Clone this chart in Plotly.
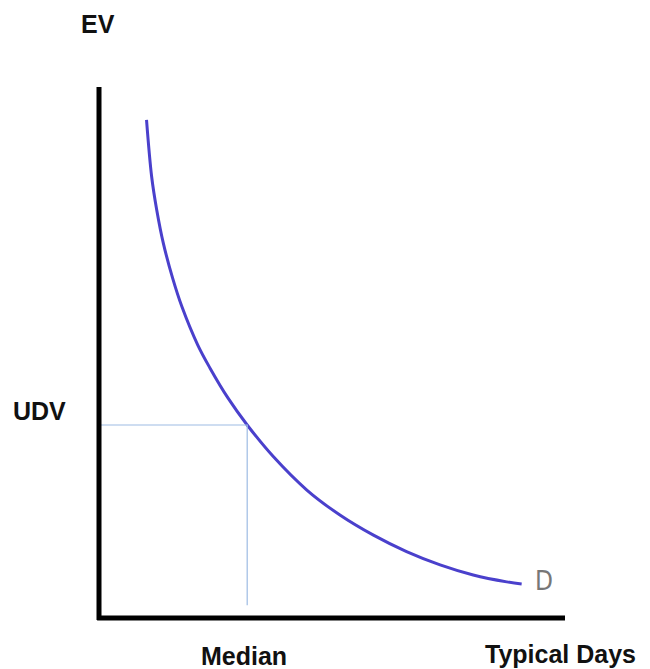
import plotly.graph_objects as go

# Demand curve D (EV vs typical days)
days = [10.2, 11.3, 12.4, 13.8, 15.8, 17.8, 21.2, 23.8, 27.7, 31.8, 37.4, 44.6,
        51.7, 58.9, 66.0, 73.2, 80.3, 87.5, 90.7]
ev = [93.8, 83.1, 76.8, 70.6, 64.0, 58.6, 51.4, 47.1, 41.4, 36.35, 30.4, 24.1,
      19.4, 15.6, 12.5, 10.0, 8.1, 6.8, 6.4]

median_days = 31.8
udv_value = 36.35
guide_bottom = 2.4

fig = go.Figure()

fig.add_trace(go.Scatter(
    x=days, y=ev, mode="lines",
    line=dict(color="#4a40cc", width=3, shape="spline", smoothing=1.0),
    hoverinfo="skip", showlegend=False))

# guide lines
fig.add_trace(go.Scatter(
    x=[0, median_days, median_days], y=[udv_value, udv_value, guide_bottom],
    mode="lines", line=dict(color="#9dbbe3", width=1.2),
    hoverinfo="skip", showlegend=False))

fig.update_layout(
    width=642, height=661,
    margin=dict(l=91, r=85, t=79, b=51),
    paper_bgcolor="white", plot_bgcolor="white",
    xaxis=dict(range=[0, 100], visible=False),
    yaxis=dict(range=[0, 100], visible=False),
    shapes=[
        dict(type="line", xref="paper", yref="paper", x0=0, x1=0, y0=-0.004, y1=1.0,
             line=dict(color="black", width=5)),
        dict(type="line", xref="paper", yref="paper", x0=-0.004, x1=1.0, y0=0, y1=0,
             line=dict(color="black", width=5)),
    ],
)

font_b = dict(family="Liberation Sans, Arial, sans-serif", size=25, color="#111")
ann = [
    dict(text="<b>EV</b>", x=-0.002, y=1.119),
    dict(text="<b>UDV</b>", x=-0.127, y=0.390),
    dict(text="<b>Median</b>", x=0.311, y=-0.071),
    dict(text="<b>Typical Days</b>", x=0.991, y=-0.067),
]
for a in ann:
    fig.add_annotation(text=a["text"], x=a["x"], y=a["y"], xref="paper", yref="paper",
                       showarrow=False, xanchor="center", yanchor="middle", font=font_b)
fig.add_annotation(text="D", x=0.955, y=0.070, xref="paper", yref="paper",
                   showarrow=False, xanchor="center", yanchor="middle",
                   font=dict(family="Liberation Sans Narrow, DejaVu Sans Condensed, sans-serif",
                             size=26, color="#777"))

fig.write_html("out.html")
